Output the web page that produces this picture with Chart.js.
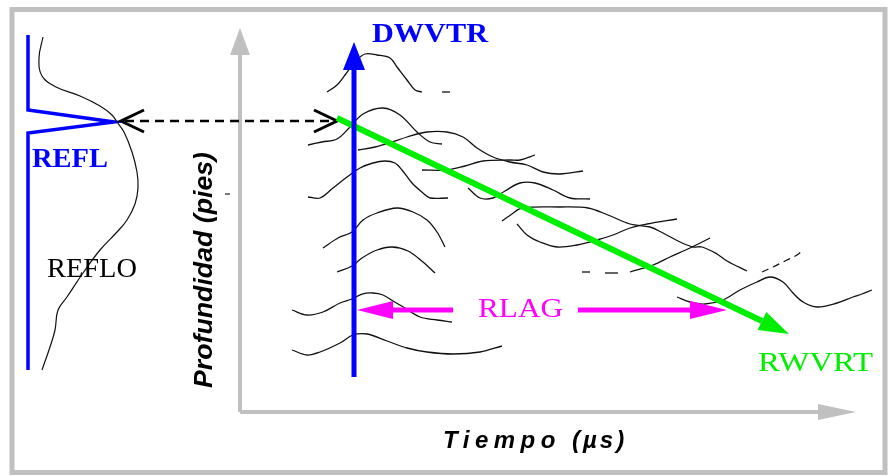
<!DOCTYPE html>
<html lang="es">
<head>
<meta charset="UTF-8">
<title>DWVTR / RWVRT</title>
<script src="https://cdn.jsdelivr.net/npm/chart.js"></script>
<style>
  body { margin: 0; background: #fff; }
  canvas { display: block; }
</style>
</head>
<body>
<canvas id="esquema" width="892" height="476"></canvas>
<script>
// ---- datos (coordenadas tiempo / profundidad del esquema) ----
const refl = [[28, 35], [28, 110], [114, 122], [28, 133], [28, 370]];
const reflo = [[43, 37], [39, 58], [42, 76], [56, 87], [80, 96], [100, 106], [112, 115], [117, 122], [124, 132],
  [132, 152], [137, 172], [138, 188], [135, 204], [127, 220], [117, 232], [100, 250], [83, 273], [67, 297],
  [58, 310], [55, 330], [50, 347], [42, 370]];

const traza1 = [[327, 92], [337, 85], [345, 75], [355, 62], [365, 54], [377, 55], [390, 58], [397, 67], [407, 80], [415, 90], [422, 92]];
const traza1b = [[442, 92], [450, 92]];
const traza2 = [[308, 145], [322, 142], [337, 139], [350, 127], [363, 114], [383, 108], [400, 115], [417, 132], [430, 142], [442, 144]];
const traza3 = [[358, 150], [375, 147], [392, 142], [407, 137], [427, 132], [447, 132], [463, 137], [477, 148], [493, 157],
  [510, 162], [527, 165], [543, 172], [560, 174], [583, 171]];
const traza4 = [[422, 170], [447, 170], [465, 166], [483, 161], [510, 160], [520, 160], [535, 155]];
const traza5 = [[308, 197], [320, 198], [333, 188], [347, 177], [360, 168], [373, 163], [385, 161], [395, 163], [402, 170],
  [412, 183], [423, 193], [430, 198], [448, 198]];
const traza6 = [[468, 188], [480, 198], [493, 198], [505, 191], [520, 183], [535, 183], [553, 190], [570, 198], [590, 199]];
const traza7 = [[502, 221], [512, 214], [522, 208], [560, 207], [588, 208], [608, 215], [630, 224], [650, 227], [663, 233],
  [680, 242], [693, 247], [702, 247], [717, 254], [727, 261], [747, 271]];
const traza8 = [[517, 224], [527, 235], [540, 242], [557, 247], [577, 245], [597, 240], [613, 235], [630, 228], [647, 224], [677, 219]];
const traza9 = [[323, 248], [338, 238], [352, 232], [363, 220], [377, 213], [397, 208], [413, 212], [427, 220], [437, 232], [445, 247]];
const traza10 = [[337, 272], [352, 266], [362, 258], [377, 250], [392, 247], [408, 251], [423, 262], [435, 273]];
const traza11 = [[630, 272], [653, 265], [670, 257], [690, 248], [710, 238]];
const traza11a = [[582, 272], [590, 272]];
const traza11b = [[605, 273], [618, 273]];
const traza12 = [[762, 272], [773, 267], [787, 260], [797, 255], [803, 250]];
const traza13 = [[292, 310], [307, 315], [323, 312], [340, 303], [352, 299], [362, 294], [373, 293], [383, 295], [393, 301],
  [405, 308], [420, 317], [437, 320], [452, 322]];
const traza14 = [[677, 297], [690, 302], [705, 304], [723, 300], [740, 290], [757, 282], [770, 277], [783, 282], [793, 293],
  [803, 302], [817, 307], [837, 303], [853, 297], [862, 294], [872, 290]];
const traza15 = [[292, 350], [307, 355], [320, 352], [340, 343], [353, 335], [367, 334], [387, 341], [407, 348], [427, 352],
  [453, 354], [480, 352], [502, 346]];

const ejeProfundidad = [[240, 412], [240, 28]];
const ejeTiempo = [[240, 412], [856, 412]];
const flechaDWVTR = [[354, 377], [354, 42]];
const flechaRWVRT = [[337, 118], [789, 334]];
const rlagIzq = [[453, 310], [357, 310]];
const rlagDer = [[578, 310], [727, 310]];
const enlace = [[121, 121], [337, 121]];

const etiquetas = ['DWVTR', 'REFL', 'REFLO', 'RLAG', 'RWVRT'];
const tituloY = 'Profundidad (pies)';
const tituloX = ['Tiempo', '(µs)'];

// ---- datasets ----
function serie(puntos, extra) {
    return Object.assign({
        data: puntos.map(p => ({ x: p[0], y: p[1] })),
        showLine: true,
        borderColor: '#111',
        borderWidth: 1.3,
        pointRadius: 0,
        tension: 0.35,
        fill: false
    }, extra || {});
}

const trazas = [traza1, traza1b, traza2, traza3, traza4, traza5, traza6, traza7, traza8, traza9,
    traza10, traza11, traza11a, traza11b, traza13, traza14, traza15];

const datasets = trazas.map(t => serie(t));
datasets.push(serie(traza12, { borderDash: [7, 5] }));
datasets.push(serie(reflo, { borderWidth: 1.2, tension: 0.4 }));
datasets.push(serie(refl, { borderColor: '#0000ff', borderWidth: 3.5, tension: 0 }));

// ---- helpers de dibujo ----
function px(chart, p) {
    return [chart.scales.x.getPixelForValue(p[0]), chart.scales.y.getPixelForValue(p[1])];
}

function flecha(ctx, chart, pts, color, ancho, largo, medio) {
    const [x1, y1] = px(chart, pts[0]);
    const [x2, y2] = px(chart, pts[1]);
    const a = Math.atan2(y2 - y1, x2 - x1);
    const bx = x2 - largo * Math.cos(a), by = y2 - largo * Math.sin(a);
    ctx.save();
    ctx.strokeStyle = color;
    ctx.fillStyle = color;
    ctx.lineWidth = ancho;
    ctx.beginPath();
    ctx.moveTo(x1, y1);
    ctx.lineTo(bx, by);
    ctx.stroke();
    ctx.beginPath();
    ctx.moveTo(x2, y2);
    ctx.lineTo(bx + medio * Math.sin(a), by - medio * Math.cos(a));
    ctx.lineTo(bx - medio * Math.sin(a), by + medio * Math.cos(a));
    ctx.closePath();
    ctx.fill();
    ctx.restore();
}

function chevron(ctx, x, y, dir) {
    ctx.beginPath();
    ctx.moveTo(x + dir * 23, y - 11);
    ctx.lineTo(x, y);
    ctx.lineTo(x + dir * 23, y + 11);
    ctx.stroke();
}

function texto(ctx, chart, str, p, ancho, fuente, color) {
    const [x, y] = px(chart, p);
    ctx.save();
    ctx.font = fuente;
    const m = ctx.measureText(str).width;
    ctx.translate(x, y);
    ctx.scale(ancho / m, 1);
    ctx.fillStyle = color;
    ctx.textBaseline = 'alphabetic';
    ctx.fillText(str, 0, 0);
    ctx.restore();
}

const dibujo = {
    id: 'dibujo',
    beforeDatasetsDraw(chart) {
        const ctx = chart.ctx;
        // marco
        const [fx1, fy1] = px(chart, [12, 9.5]);
        const [fx2, fy2] = px(chart, [885, 472.5]);
        ctx.save();
        ctx.strokeStyle = '#c0c0c0';
        ctx.lineWidth = 5;
        ctx.strokeRect(fx1, fy1, fx2 - fx1, fy2 - fy1);
        ctx.restore();
        // ejes grises
        flecha(ctx, chart, ejeProfundidad, '#c0c0c0', 4, 27, 10);
        flecha(ctx, chart, ejeTiempo, '#c0c0c0', 4, 38, 8);
    },
    afterDatasetsDraw(chart) {
        const ctx = chart.ctx;
        // enlace punteado con doble punta
        const [ex1, ey1] = px(chart, enlace[0]);
        const [ex2, ey2] = px(chart, enlace[1]);
        ctx.save();
        ctx.strokeStyle = '#000';
        ctx.lineWidth = 2.6;
        ctx.setLineDash([9, 6]);
        ctx.beginPath();
        ctx.moveTo(ex1 + 4, ey1);
        ctx.lineTo(ex2 - 4, ey2);
        ctx.stroke();
        ctx.setLineDash([]);
        ctx.lineWidth = 3;
        chevron(ctx, ex1, ey1, 1);
        chevron(ctx, ex2, ey2, -1);
        ctx.restore();

        flecha(ctx, chart, flechaRWVRT, '#00ee00', 6, 30, 10);
        flecha(ctx, chart, flechaDWVTR, '#0000ff', 5, 28, 11);
        flecha(ctx, chart, rlagIzq, '#ff00ff', 5, 36, 9);
        flecha(ctx, chart, rlagDer, '#ff00ff', 5, 37, 9);

        const serif = '27px "Liberation Serif"';
        texto(ctx, chart, etiquetas[0], [372, 42], 116, 'bold ' + serif, '#0000ff');
        texto(ctx, chart, etiquetas[1], [32, 167], 76, 'bold ' + serif, '#0000ff');
        texto(ctx, chart, etiquetas[2], [47, 277], 90, serif, '#000');
        texto(ctx, chart, etiquetas[3], [478, 317], 85, serif, '#ff00ff');
        texto(ctx, chart, etiquetas[4], [758, 371], 115, serif, '#00ee00');

        // titulo eje vertical
        const [tx, ty] = px(chart, [212, 270]);
        ctx.save();
        ctx.translate(tx, ty);
        ctx.rotate(-Math.PI / 2);
        ctx.font = 'italic bold 26px "Liberation Sans"';
        ctx.textAlign = 'center';
        ctx.fillStyle = '#000';
        const wy = ctx.measureText(tituloY).width;
        ctx.scale(236 / wy, 1);
        ctx.fillText(tituloY, 0, 0);
        ctx.restore();
        const [mx, my] = px(chart, [225, 194]);
        ctx.save();
        ctx.strokeStyle = '#222';
        ctx.lineWidth = 1.2;
        ctx.beginPath();
        ctx.moveTo(mx, my);
        ctx.lineTo(mx + 5, my);
        ctx.stroke();
        ctx.restore();

        // titulo eje horizontal
        const [hx, hy] = px(chart, [443, 448]);
        const [ux, uy] = px(chart, [572, 448]);
        ctx.save();
        ctx.font = 'italic bold 24px "Liberation Sans"';
        ctx.fillStyle = '#000';
        ctx.letterSpacing = '5.5px';
        ctx.fillText(tituloX[0], hx, hy);
        ctx.letterSpacing = '3px';
        ctx.fillText(tituloX[1], ux, uy);
        ctx.restore();
    }
};

new Chart(document.getElementById('esquema'), {
    type: 'scatter',
    data: { datasets: datasets },
    options: {
        responsive: false,
        animation: false,
        devicePixelRatio: 1,
        layout: { padding: 0 },
        scales: {
            x: { type: 'linear', min: 0, max: 892, display: false },
            y: { type: 'linear', min: 0, max: 476, reverse: true, display: false }
        },
        plugins: {
            legend: { display: false },
            tooltip: { enabled: false }
        }
    },
    plugins: [dibujo]
});
</script>
</body>
</html>
